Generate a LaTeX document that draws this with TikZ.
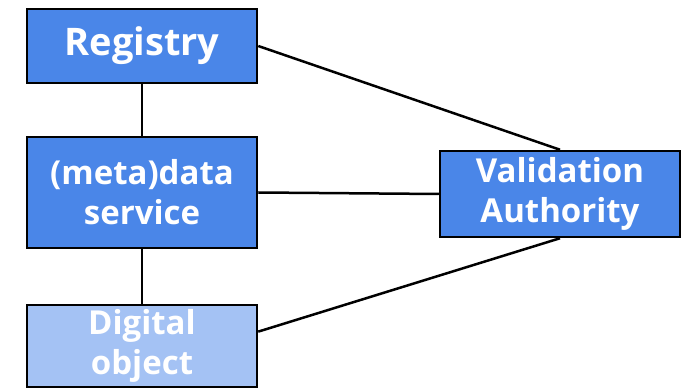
\documentclass[tikz,border=0pt]{standalone}
\usepackage{fontspec}
\setmainfont{Open Sans}
\usetikzlibrary{calc}

\definecolor{boxblue}{HTML}{4A86E8}
\definecolor{lightblue}{HTML}{A4C2F4}

\tikzset{
  box/.style={draw=black, line width=2.5pt, fill=boxblue, text=white,
    font=\fontsize{33}{40}\selectfont\bfseries, align=center,
    inner sep=0pt, minimum width=230pt},
  link/.style={black, line width=2.5pt}
}

\begin{document}
\begin{tikzpicture}[x=1pt,y=1pt]
  \useasboundingbox (0,0) rectangle (690,390);

  % Left column
  \node[box, font=\fontsize{38}{44}\selectfont\bfseries, minimum height=74pt] (reg) at (142,344) {Registry};
  \node[box, minimum height=111pt] (meta) at (142,197.5) {(meta)data\\service};
  \node[box, fill=lightblue, minimum height=82pt] (dig) at (142,44) {Digital\\object};

  % Right side
  \node[box, minimum width=240pt, minimum height=86pt] (va) at (560,196) {Validation\\Authority};

  % Links
  \coordinate (digout) at ($(dig.north east)!0.33!(dig.south east)$);
  \draw[link] (reg.south) -- (meta.north);
  \draw[link] (meta.south) -- (dig.north);
  \draw[link] (reg.east) -- (va.north);
  \draw[link] (meta.east) -- (va.west);
  \draw[link] (digout) -- (va.south);
\end{tikzpicture}
\end{document}
